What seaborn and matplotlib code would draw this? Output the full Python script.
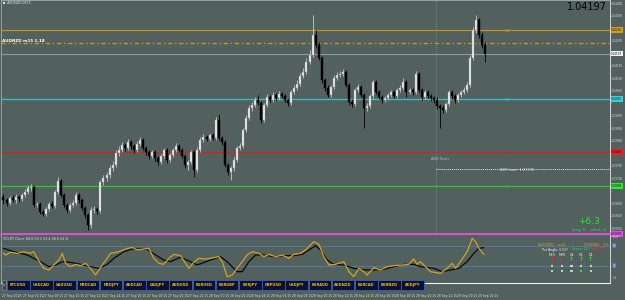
import numpy as np
import pandas as pd
import seaborn as sns
import matplotlib
matplotlib.use("Agg")
import matplotlib.pyplot as plt
from matplotlib.patches import Rectangle
import matplotlib.transforms as mtrans

# ---------------- data ----------------
symbol = "AUDNZD,M15"
# prices in points (1e-5) above 1.00000
open_pts = [3624, 3612, 3600, 3620, 3612, 3624, 3616, 3632, 3644, 3660,
            3664, 3592, 3596, 3564, 3556, 3576, 3596, 3588, 3644, 3688,
            3632, 3592, 3572, 3592, 3600, 3632, 3612, 3580, 3552, 3512,
            3572, 3576, 3568, 3684, 3700, 3712, 3740, 3752, 3800, 3812,
            3832, 3820, 3844, 3828, 3812, 3836, 3852, 3820, 3804, 3788,
            3804, 3780, 3764, 3788, 3812, 3772, 3792, 3812, 3828, 3812,
            3788, 3752, 3764, 3804, 3732, 3812, 3852, 3864, 3856, 3872,
            3860, 3932, 3860, 3844, 3752, 3724, 3740, 3772, 3820, 3828,
            3892, 3940, 3980, 3992, 4012, 4000, 3932, 3992, 4024, 4012,
            4032, 4020, 4036, 4028, 4012, 4000, 4044, 4060, 4076, 4108,
            4124, 4164, 4192, 4272, 4232, 4180, 4092, 4060, 4032, 4064,
            4100, 4112, 4116, 4124, 4072, 4004, 3996, 4052, 4064, 4032,
            3980, 3988, 4028, 4084, 4044, 4024, 4012, 4020, 4032, 4044,
            4028, 4052, 4060, 4084, 4044, 4052, 4044, 4116, 4052, 4024,
            4044, 4028, 4020, 4012, 3988, 3980, 3972, 3996, 4044, 4028,
            4012, 4032, 4044, 4052, 4072, 4180, 4292, 4332, 4272, 4232]
close_pts = [3612, 3600, 3620, 3612, 3624, 3616, 3632, 3644, 3660, 3664,
             3592, 3596, 3564, 3556, 3576, 3596, 3588, 3644, 3688, 3632,
             3592, 3572, 3592, 3600, 3632, 3612, 3580, 3552, 3512, 3572,
             3576, 3568, 3684, 3700, 3712, 3740, 3752, 3800, 3812, 3832,
             3820, 3844, 3828, 3812, 3836, 3852, 3820, 3804, 3788, 3804,
             3780, 3764, 3788, 3812, 3772, 3792, 3812, 3828, 3812, 3788,
             3752, 3764, 3804, 3732, 3812, 3852, 3864, 3856, 3872, 3860,
             3932, 3860, 3844, 3752, 3724, 3740, 3772, 3820, 3828, 3892,
             3940, 3980, 3992, 4012, 4000, 3932, 3992, 4024, 4012, 4032,
             4020, 4036, 4028, 4012, 4000, 4044, 4060, 4076, 4108, 4124,
             4164, 4192, 4272, 4232, 4180, 4092, 4060, 4032, 4064, 4100,
             4112, 4116, 4124, 4072, 4004, 3996, 4052, 4064, 4032, 3980,
             3988, 4028, 4084, 4044, 4024, 4012, 4020, 4032, 4044, 4028,
             4052, 4060, 4084, 4044, 4052, 4044, 4116, 4052, 4024, 4044,
             4028, 4020, 4012, 3988, 3980, 3972, 3996, 4044, 4028, 4012,
             4032, 4044, 4052, 4072, 4180, 4292, 4332, 4272, 4232, 4197]
high_pts = [3636, 3620, 3628, 3632, 3636, 3632, 3640, 3656, 3672, 3676,
            3672, 3604, 3604, 3572, 3584, 3604, 3608, 3652, 3704, 3696,
            3640, 3600, 3600, 3612, 3644, 3640, 3620, 3588, 3560, 3584,
            3588, 3584, 3692, 3712, 3724, 3752, 3768, 3812, 3828, 3844,
            3840, 3856, 3852, 3836, 3848, 3864, 3860, 3828, 3812, 3812,
            3812, 3788, 3796, 3820, 3820, 3800, 3820, 3840, 3836, 3820,
            3796, 3772, 3812, 3812, 3824, 3864, 3876, 3872, 3880, 3880,
            3944, 3956, 3868, 3852, 3760, 3748, 3784, 3828, 3840, 3900,
            3952, 3992, 4004, 4024, 4032, 4008, 4000, 4036, 4032, 4044,
            4040, 4048, 4044, 4036, 4020, 4052, 4072, 4092, 4120, 4140,
            4180, 4212, 4352, 4292, 4244, 4188, 4100, 4072, 4072, 4112,
            4124, 4128, 4136, 4132, 4080, 4016, 4060, 4076, 4072, 4040,
            4000, 4036, 4092, 4092, 4052, 4032, 4028, 4040, 4052, 4052,
            4060, 4072, 4100, 4092, 4060, 4060, 4128, 4124, 4060, 4052,
            4052, 4036, 4028, 4024, 3996, 3992, 4004, 4052, 4052, 4036,
            4040, 4052, 4064, 4084, 4192, 4304, 4352, 4340, 4284, 4244]
low_pts = [3596, 3588, 3592, 3604, 3600, 3604, 3608, 3624, 3636, 3648,
           3584, 3584, 3556, 3548, 3548, 3568, 3580, 3580, 3636, 3624,
           3584, 3560, 3564, 3584, 3592, 3600, 3572, 3540, 3492, 3500,
           3560, 3556, 3560, 3672, 3688, 3700, 3728, 3744, 3788, 3804,
           3808, 3812, 3816, 3800, 3804, 3828, 3812, 3792, 3776, 3780,
           3768, 3752, 3756, 3780, 3760, 3764, 3784, 3804, 3804, 3780,
           3740, 3732, 3756, 3704, 3724, 3804, 3844, 3848, 3848, 3852,
           3852, 3852, 3832, 3744, 3712, 3692, 3728, 3764, 3812, 3820,
           3884, 3932, 3968, 3984, 3992, 3920, 3924, 3984, 4004, 4004,
           4012, 4012, 4020, 4004, 3988, 3992, 4036, 4052, 4068, 4100,
           4116, 4156, 4184, 4220, 4172, 4080, 4048, 4024, 4024, 4056,
           4092, 4104, 4108, 4064, 3992, 3984, 3988, 4044, 4024, 3900,
           3968, 3980, 4020, 4036, 4016, 4000, 4004, 4012, 4024, 4020,
           4020, 4044, 4052, 4024, 4036, 4032, 4036, 4044, 4012, 4016,
           4020, 4008, 4000, 3976, 3900, 3960, 3964, 3988, 4016, 4000,
           4004, 4024, 4036, 4044, 4064, 4172, 4280, 4260, 4220, 4164]

# horizontal levels
level_names = ["R2", "R1", "PP", "S1"]
level_prices = [1.04292, 1.04016, 1.03804, 1.03668]
level_colors = ["#c8901c", "#2cc6cf", "#d42020", "#28c828"]
level_box = ["#d89a1e", "#35d4dc", "#e82020", "#30e830"]
dash_level = 1.04240
bid_price = 1.04197
adr_low = 1.03736
adr_start_bar = 142.7
bottom_level = 1.03476

# TDI indicator
slow_bar = [0, 3.4, 7.8, 12.2, 15.0, 17.2, 19.4, 22.1, 25.4, 28.7,
            31.5, 34.2, 36.4, 39.7, 42.5, 45.2, 47.4, 50.2, 52.9, 55.1,
            58.4, 61.7, 63.9, 68.3, 71.6, 73.8, 77.1, 78.8, 81.0, 83.2,
            85.9, 89.2, 92.5, 95.8, 98.6, 100.8, 103.0, 104.6, 106.8, 109.0,
            112.3, 115.6, 118.9, 122.2, 125.5, 128.8, 132.1, 135.4, 137.6, 142.0,
            144.8, 147.5, 150.3, 153.0, 155.2, 156.9, 158.5]
slow_val = [63.0, 57.0, 51.1, 39.2, 30.2, 33.2, 39.2, 38.0, 34.4, 30.2,
            27.3, 34.4, 45.1, 57.0, 61.8, 61.8, 61.2, 51.1, 42.1, 39.2,
            46.9, 39.2, 33.2, 42.1, 48.1, 39.2, 21.3, 21.3, 39.2, 51.1,
            51.1, 48.1, 49.9, 49.9, 52.3, 60.0, 67.7, 60.0, 42.1, 34.4,
            33.2, 27.3, 24.3, 24.3, 25.5, 30.2, 34.4, 34.4, 30.2, 27.3,
            21.3, 24.3, 27.3, 39.2, 54.0, 63.0, 64.2]
fast_bar = [0, 0.7, 2.3, 4.5, 6.7, 8.9, 10.0, 11.1, 13.3, 15.0,
            16.6, 18.3, 19.4, 20.5, 22.1, 23.8, 25.4, 27.1, 28.7, 30.4,
            32.0, 34.2, 35.3, 38.1, 40.3, 42.5, 44.1, 46.3, 48.0, 49.6,
            51.3, 52.9, 54.6, 56.2, 58.4, 60.1, 61.2, 62.8, 64.5, 66.7,
            68.3, 71.1, 72.2, 73.8, 75.5, 77.1, 78.8, 80.4, 82.1, 84.3,
            85.9, 87.6, 89.8, 92.0, 94.2, 95.8, 98.0, 99.7, 101.3, 102.4,
            104.1, 105.7, 107.4, 109.6, 112.3, 114.0, 115.6, 117.3, 118.9, 120.0,
            122.2, 124.4, 126.6, 128.8, 131.6, 133.8, 135.4, 136.5, 137.6, 140.9,
            144.2, 146.4, 148.1, 149.2, 150.8, 153.0, 154.7, 155.8, 156.9, 158.5]
fast_val = [54.0, 51.1, 55.8, 54.0, 57.0, 54.0, 57.0, 45.1, 27.3, 24.3,
            33.2, 42.1, 54.0, 36.2, 30.2, 34.4, 32.0, 36.2, 27.3, 15.3,
            28.4, 45.1, 54.0, 57.0, 61.8, 64.8, 60.0, 61.8, 63.0, 45.1,
            36.2, 34.4, 45.1, 52.3, 49.9, 36.2, 27.3, 38.0, 45.1, 43.9,
            45.1, 48.1, 39.2, 12.4, 15.3, 27.3, 39.2, 51.1, 57.0, 54.0,
            48.1, 52.3, 48.1, 51.1, 45.1, 52.3, 54.0, 60.0, 68.9, 74.9,
            70.1, 48.1, 33.2, 34.4, 39.2, 21.3, 12.4, 27.3, 21.3, 15.3,
            28.4, 24.3, 30.2, 32.0, 33.2, 34.4, 43.9, 34.4, 39.2, 21.3,
            18.3, 27.3, 36.2, 27.3, 39.2, 57.0, 80.8, 74.9, 63.0, 52.3]
tdi_levels = [68, 32]

buttons = ["BTCUSD", "USDCAD", "XAUUSD", "NZDCAD", "NZDJPY", "AUDCAD", "CADJPY",
           "AUDUSD", "EURUSD", "EURGBP", "EURJPY", "GBPUSD", "USDJPY", "EURAUD",
           "AUDNZD", "EURCAD", "EURNZD", "AUDJPY"]
date_labels = ["27 Sep 2019", "27 Sep 06:15", "27 Sep 08:15", "27 Sep 10:15",
               "27 Sep 12:15", "27 Sep 14:15", "27 Sep 16:15", "27 Sep 18:15",
               "27 Sep 20:15", "27 Sep 22:15", "28 Sep 00:15", "28 Sep 02:15",
               "28 Sep 04:15", "28 Sep 06:15", "28 Sep 08:15", "28 Sep 10:15",
               "28 Sep 12:15", "28 Sep 14:15", "28 Sep 16:15", "28 Sep 18:15",
               "28 Sep 20:15", "28 Sep 22:15", "29 Sep 00:15", "29 Sep 02:15"]
tf_names = ["M15", "M30", "H1", "H4", "D1"]
tf_up = [False, False, True, True, True]

# ---------------- style ----------------
sns.set_theme(style="dark")
plt.rcParams["font.family"] = ["DejaVu Sans"]
BG = "#52615d"
TXT = "#d8dedb"
FS_AX = 2.0

W, H = 625, 300
fig = plt.figure(figsize=(6.25, 3.0), dpi=100)
fig.patch.set_facecolor(BG)

bar_px = 3.03
xmin = -0.825
xmax = xmin + 609 / bar_px

ax = fig.add_axes([1 / W, 65 / H, 609 / W, 235 / H])
ax.set_facecolor(BG)
ax.set_xlim(xmin, xmax)
ax.set_ylim(1.03472, 1.04412)

o = 1 + np.array(open_pts) / 1e5
c = 1 + np.array(close_pts) / 1e5
hi = 1 + np.array(high_pts) / 1e5
lo = 1 + np.array(low_pts) / 1e5
idx = np.arange(len(o))
up = c >= o

# levels
for name, p, col in zip(level_names, level_prices, level_colors):
    ax.axhline(p, color=col, lw=0.9, zorder=1)
    ax.text(165.5, p - 0.00004, name, color=col, fontsize=3.0, ha="left", va="center", zorder=2)
ax.axhline(dash_level, color="#c8961e", lw=1.0, ls=(0, (3, 2, 1, 2)), zorder=1)
ax.axhline(bid_price, color="#8d9a98", lw=0.8, zorder=1)
ax.axhline(bottom_level, color="#e050e0", lw=2.0, zorder=3, clip_on=False)
ax.axvline(adr_start_bar, color="#8a9896", lw=0.6, ls=(0, (1, 1.5)), zorder=1)
ax.hlines(adr_low, adr_start_bar, xmax, color="#e8e8e8", lw=0.7, ls=(0, (1, 1)), zorder=1)
ax.text(141.0, adr_low + 0.00040, "ADR Start", color="#9fc0c4", fontsize=2.6, ha="left", va="center")
ax.text(164.0, adr_low - 0.00005, "ADR Low : 1.03736", color="#e0e0e0", fontsize=2.6, ha="left", va="center")

# candles
ax.vlines(idx[up], lo[up], hi[up], color="#c8c8c8", lw=0.6, zorder=4)
ax.vlines(idx[~up], lo[~up], hi[~up], color="#000000", lw=0.6, zorder=4)
body_h = np.maximum(np.abs(c - o), 0.000012)
ax.bar(idx[up], body_h[up], bottom=np.minimum(o, c)[up], width=0.66,
       color="#f4f4f4", edgecolor="#8f8f8f", linewidth=0.3, zorder=5)
ax.bar(idx[~up], body_h[~up], bottom=np.minimum(o, c)[~up], width=0.66,
       color="#000000", edgecolor="#000000", linewidth=0.3, zorder=5)

# axis styling
ax.set_xticks([])
ax.yaxis.tick_right()
box_prices = level_prices + [bid_price, bottom_level]
yt = np.arange(1.0350, 1.04401, 0.0005)
ax.set_yticks(yt)
ax.set_yticklabels(["" if min(abs(v - b) for b in box_prices) < 0.00022 else f"{v:.5f}" for v in yt])
ax.tick_params(axis="y", labelsize=FS_AX, colors=TXT, length=1.0, width=0.4, pad=0.3)
for s in ["left", "top"]:
    ax.spines[s].set_color("#a3aeab")
    ax.spines[s].set_linewidth(0.6)
ax.spines["right"].set_color("#d8d8d8")
ax.spines["right"].set_linewidth(0.7)
ax.spines["bottom"].set_visible(False)
ax.grid(False)

ytrans = mtrans.blended_transform_factory(ax.transAxes, ax.transData)
for p, col in zip(level_prices, level_box):
    ax.text(1.002, p, f"{p:.5f}", transform=ytrans, fontsize=FS_AX, color="#101010",
            ha="left", va="center", clip_on=False, zorder=6,
            bbox=dict(boxstyle="square,pad=0.2", fc=col, ec="none"))
ax.text(1.002, bid_price, f"{bid_price:.5f}", transform=ytrans, fontsize=FS_AX, color="#101010",
        ha="left", va="center", clip_on=False, zorder=6,
        bbox=dict(boxstyle="square,pad=0.2", fc="#f2f2f2", ec="none"))
ax.text(1.002, bottom_level, f"{bottom_level:.5f}", transform=ytrans, fontsize=FS_AX, color="#101010",
        ha="left", va="center", clip_on=False, zorder=6,
        bbox=dict(boxstyle="square,pad=0.2", fc="#e050e0", ec="none"))

# ---------------- indicator ----------------
ai = fig.add_axes([1 / W, 17 / H, 609 / W, 48 / H])
ai.set_facecolor(BG)
ai.set_xlim(xmin, xmax)
ai.set_ylim(1.06, 86.8)
for lv in tdi_levels:
    ai.axhline(lv, color="#5079a8", lw=0.7, zorder=1)
df_slow = pd.DataFrame({"bar": slow_bar, "val": slow_val})
df_fast = pd.DataFrame({"bar": fast_bar, "val": fast_val})
sns.lineplot(data=df_slow, x="bar", y="val", ax=ai, color="#0a0a0a", lw=0.9,
             estimator=None, sort=False, zorder=3)
sns.lineplot(data=df_fast, x="bar", y="val", ax=ai, color="#d9a020", lw=0.9,
             estimator=None, sort=False, zorder=4)
ai.set_xlabel("")
ai.set_ylabel("")
ai.set_yticks([])
tick_pos = [xmin + (1 + 20.7 * k) / bar_px for k in range(len(date_labels))]
ai.set_xticks(tick_pos)
ai.set_xticklabels(date_labels, ha="left")
ai.tick_params(axis="x", labelsize=2.2, colors=TXT, length=1.5, width=0.4, pad=6.3, direction="out")
ai.spines["top"].set_visible(False)
ai.spines["left"].set_color("#a3aeab")
ai.spines["left"].set_linewidth(0.6)
ai.spines["right"].set_color("#d8d8d8")
ai.spines["right"].set_linewidth(0.7)
ai.spines["bottom"].set_color("#f0f0f0")
ai.spines["bottom"].set_linewidth(0.8)
ai.grid(False)
itrans = mtrans.blended_transform_factory(ai.transAxes, ai.transData)
for lv in tdi_levels:
    ai.text(1.004, lv, f"{lv}", transform=itrans, fontsize=FS_AX, color="#e8e8e8",
            ha="left", va="center", clip_on=False,
            bbox=dict(boxstyle="square,pad=0.2", fc="#5079a8", ec="none"))
ai.text(1.004, 83.5, "86.8", transform=itrans, fontsize=FS_AX, color=TXT, ha="left", va="center", clip_on=False)
ai.text(1.004, 10, "1.1", transform=itrans, fontsize=FS_AX, color=TXT, ha="left", va="center", clip_on=False)

# ---------------- overlay (pixel coordinates) ----------------
ov = fig.add_axes([0, 0, 1, 1], zorder=10)
ov.set_xlim(0, W)
ov.set_ylim(H, 0)
ov.axis("off")
ov.patch.set_alpha(0)

ov.add_patch(Rectangle((3, 2.2), 2.2, 2.2, fc="#e0e0e0", ec="none"))
ov.text(7, 3.4, symbol, fontsize=2.6, color=TXT, va="center", ha="left")
ov.text(2.5, 41, "AUDNZD m15 1.18", fontsize=3.0, color="#ffffff", fontweight="bold", va="center", ha="left")
ov.text(607, 7, "1.04197", fontsize=7, color="#000000", ha="right", va="center")
ov.text(600, 222, "+6.3", fontsize=6.5, color="#33e033", ha="right", va="center")
ov.text(606, 230, "long: 0    short: 4", fontsize=2.8, color="#33e033", ha="right", va="center")
ov.text(3, 238.5, "TDI-RT-Clone 68.8 58.2 53.4 68.6 61.8", fontsize=2.4, color=TXT, ha="left", va="center")

# info block
ov.text(538, 244.5, "AUDNZD   m15", fontsize=2.6, color="#d9a020", ha="left", va="center")
ov.text(584, 244.5, "STRONG   7.6", fontsize=2.6, color="#d9a020", ha="left", va="center")
ov.text(542, 249.5, "Pct Angle: 0.50°", fontsize=2.3, color="#f0f0f0", ha="left", va="center")
ov.text(572, 249.5, "Green: 23°", fontsize=2.3, color="#33e033", ha="left", va="center")
ov.text(591, 249.5, "Red: 32°", fontsize=2.3, color="#ff3030", ha="left", va="center")
for k, (tf, u) in enumerate(zip(tf_names, tf_up)):
    xk = 552 + k * 9.7
    ov.text(xk, 254.5, tf, fontsize=2.3, color="#f0f0f0", ha="center", va="center")
    ov.text(xk, 259.5, "↑" if u else "↓", fontsize=4.5, fontweight="bold",
            color="#33e033" if u else "#ff2020", ha="center", va="center")
    ov.add_patch(Rectangle((xk - 1.2, 265), 2.4, 2.4, fc="#f0f0f0", ec="#7a8a86", lw=0.3))
    ov.add_patch(Rectangle((xk - 1.2, 270), 2.4, 2.4, fc="#30e030" if k == 3 else "#a8e0a8", ec="none"))

# button bar
ov.add_patch(Rectangle((1.5, 280.3), 4.5, 9.2, fc="#3c4a52", ec="#8090a0", lw=0.4))
ov.text(3.7, 284.9, "x", fontsize=2.4, color="#e0e0e0", ha="center", va="center")
bw = 23.2
for k, name in enumerate(buttons):
    x0 = 7 + k * bw
    ov.add_patch(Rectangle((x0, 280.3), bw - 0.6, 9.2, fc="#0b1230", ec="#3d5db8", lw=0.6))
    ov.text(x0 + (bw - 0.6) / 2, 284.9, name, fontsize=2.6, color="#e8b830",
            fontweight="bold", ha="center", va="center")

fig.savefig("out.png", dpi=100, facecolor=BG)
